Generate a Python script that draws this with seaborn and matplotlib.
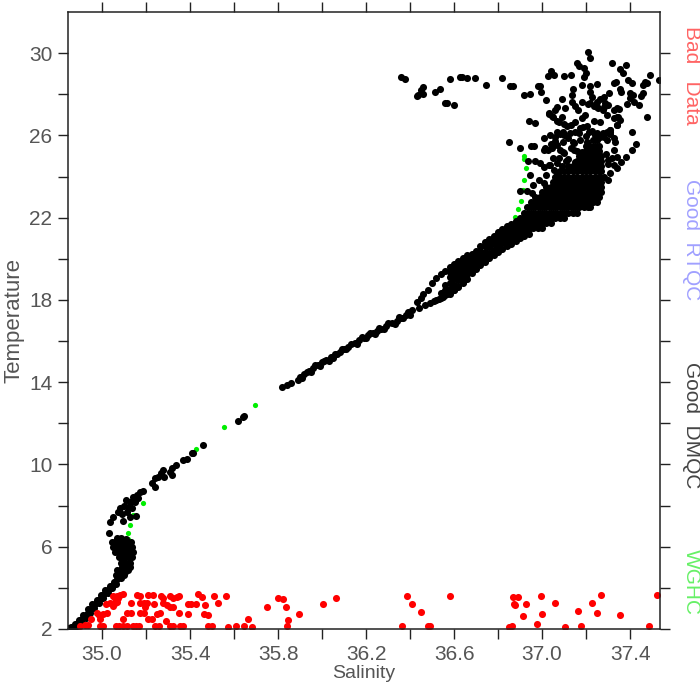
import numpy as np
import pandas as pd
import seaborn as sns
import matplotlib.pyplot as plt

# lower curve and the blob above it
curve_sal = [34.85, 34.86, 34.87, 34.88, 34.89, 34.90, 34.91, 34.92, 34.93, 34.94, 34.95, 34.96, 34.97, 34.98, 34.99, 35.00, 35.01, 35.02, 35.03, 35.04, 35.05, 35.06, 35.07, 35.08, 35.09, 35.10, 35.11,
             34.865, 34.885, 34.905, 34.925, 34.945, 34.965, 34.985, 35.005, 35.025, 35.045, 35.065, 35.085, 35.105,
             34.875, 34.895, 34.915, 34.935, 34.955, 34.975, 34.995, 35.015, 35.035, 35.055, 35.075, 35.095, 35.09, 35.095, 35.11, 35.125]
curve_temp = [2.03, 2.08, 2.12, 2.2, 2.3, 2.38, 2.5, 2.62, 2.74, 2.85, 2.97, 3.1, 3.22, 3.35, 3.47, 3.6, 3.72, 3.84, 3.95, 4.05, 4.15, 4.3, 4.45, 4.6, 4.75, 4.9, 5.0,
              2.02, 2.12, 2.3, 2.55, 2.78, 3.02, 3.28, 3.5, 3.75, 3.97, 4.2, 4.5, 4.75,
              2.25, 2.45, 2.7, 2.95, 3.2, 3.42, 3.65, 3.88, 4.1, 4.3, 4.6, 4.85, 5.0, 5.35, 5.05, 5.0]
blob_sal = [35.065, 35.08, 35.10, 35.07, 35.085, 35.10, 35.12, 35.085, 35.10, 35.12, 35.125, 35.075, 35.09, 35.105, 35.12, 35.135, 35.06, 35.075, 35.09, 35.105, 35.12, 35.14, 35.05, 35.065, 35.08, 35.10, 35.12, 35.135, 35.045, 35.06, 35.08, 35.10, 35.115, 35.13, 35.07, 35.085, 35.11]
blob_temp = [4.63, 4.63, 4.63, 4.87, 4.87, 4.87, 4.87, 5.2, 5.2, 5.2, 5.2, 5.52, 5.52, 5.52, 5.52, 5.52, 5.76, 5.76, 5.76, 5.76, 5.76, 5.76, 6.0, 6.0, 6.0, 6.0, 6.0, 6.0, 6.25, 6.25, 6.25, 6.25, 6.25, 6.25, 6.42, 6.42, 6.4]

# 7 to 13 degrees
lower_sal = [35.032, 35.036, 35.05, 35.074, 35.082, 35.097, 35.112, 35.12, 35.127, 35.127, 35.135, 35.142, 35.15, 35.154, 35.157, 35.165, 35.173, 35.188, 35.10, 35.09, 35.11, 35.226, 35.24, 35.24, 35.256, 35.27, 35.279, 35.28, 35.309, 35.317, 35.32, 35.336, 35.367, 35.385, 35.407, 35.415, 35.457, 35.618, 35.64, 35.647]
lower_temp = [6.65, 7.22, 7.46, 7.7, 7.87, 7.27, 7.7, 7.95, 7.46, 8.19, 7.87, 8.43, 8.19, 7.51, 8.51, 8.35, 8.68, 8.72, 8.0, 7.6, 8.25, 9.08, 9.32, 8.89, 9.41, 9.57, 9.73, 9.37, 9.65, 9.49, 9.81, 9.97, 10.21, 10.25, 10.54, 10.57, 10.97, 12.13, 12.29, 12.35]

# the thin line from 14 degrees up to the fork
line_sal = [35.82, 35.84, 35.86, 35.89, 35.90, 35.92, 35.94, 35.96, 35.98, 36.00, 36.02, 36.04, 36.06, 36.08, 36.10, 36.12, 36.15, 36.17, 36.19, 36.21, 36.23, 36.25, 36.27, 36.29, 36.32, 36.34, 36.36, 36.38, 36.41, 36.43, 36.45, 36.46, 36.48, 36.50, 36.44, 36.47, 36.49, 36.51, 36.53, 36.55, 36.57, 36.60, 36.62, 36.64,
            35.91, 35.93, 35.95, 35.97, 35.99, 36.01, 36.03, 36.05, 36.07, 36.09, 36.11, 36.13, 36.16, 36.18, 36.20, 36.22, 36.24, 36.26, 36.28, 36.30, 36.33, 36.35, 36.37, 36.39, 36.40]
line_temp = [13.76, 13.85, 13.95, 14.1, 14.25, 14.4, 14.55, 14.7, 14.85, 14.98, 15.1, 15.22, 15.35, 15.46, 15.6, 15.72, 15.9, 16.04, 16.15, 16.28, 16.38, 16.5, 16.6, 16.72, 16.87, 17.0, 17.12, 17.25, 17.5, 17.9, 18.1, 18.3, 18.5, 18.8, 17.6, 17.75, 17.85, 17.95, 18.05, 18.15, 18.3, 18.5, 18.65, 18.8,
             14.2, 14.5, 14.5, 14.85, 14.8, 15.05, 15.05, 15.2, 15.35, 15.6, 15.6, 15.85, 15.85, 16.2, 16.15, 16.4, 16.35, 16.65, 16.6, 16.9, 16.85, 17.15, 17.1, 17.4, 17.25]

# band below the core, one list of temperatures for each salinity
band_sal = [36.52, 36.54, 36.56, 36.58, 36.60, 36.62, 36.64, 36.66, 36.68, 36.70, 36.72, 36.74, 36.76, 36.78, 36.80, 36.82, 36.84, 36.86, 36.88, 36.90, 36.92, 36.94]
band_temp = [
    [18.0, 19.05],
    [18.1, 18.35, 19.25],
    [18.25, 18.5, 18.75, 19.4],
    [18.3, 18.55, 18.8, 19.1, 19.35, 19.6],
    [18.5, 18.75, 19.0, 19.25, 19.5, 19.75],
    [18.7, 18.95, 19.2, 19.45, 19.7, 19.9],
    [18.85, 19.1, 19.35, 19.6, 19.85, 20.05],
    [19.0, 19.25, 19.5, 19.75, 20.0, 20.2],
    [19.3, 19.5, 19.75, 20.0, 20.25],
    [19.5, 19.7, 19.95, 20.2, 20.4],
    [19.7, 19.9, 20.15, 20.4, 20.6],
    [19.85, 20.1, 20.35, 20.6, 20.8],
    [20.05, 20.3, 20.55, 20.75, 20.95],
    [20.2, 20.45, 20.7, 20.9, 21.1],
    [20.35, 20.6, 20.85, 21.05, 21.3],
    [20.5, 20.75, 21.0, 21.25, 21.45],
    [20.6, 20.85, 21.1, 21.35, 21.6],
    [20.7, 20.95, 21.2, 21.45, 21.7],
    [20.85, 21.1, 21.35, 21.6, 21.85],
    [21.0, 21.25, 21.5],
    [21.1, 21.35],
    [21.2, 21.45],
]

# solid core of the upper cloud, one list of salinities for each temperature
core_temp = [21.5, 21.75, 22.0, 22.25, 22.5, 22.75, 23.0, 23.25, 23.5, 23.75, 24.0, 24.25, 24.5, 24.75, 25.0, 25.25, 25.5]
core_sal = [
    [36.90, 36.92, 36.94, 36.96, 36.98, 37.00],
    [36.90, 36.92, 36.94, 36.96, 36.98, 37.00, 37.02, 37.04],
    [36.90, 36.92, 36.94, 36.96, 36.98, 37.00, 37.02, 37.04, 37.06, 37.08, 37.10],
    [36.92, 36.94, 36.96, 36.98, 37.00, 37.02, 37.04, 37.06, 37.08, 37.10, 37.12, 37.14, 37.16],
    [36.93, 36.95, 36.97, 36.99, 37.01, 37.03, 37.05, 37.07, 37.09, 37.11, 37.13, 37.15, 37.17, 37.19, 37.21, 37.22],
    [36.95, 36.97, 36.99, 37.01, 37.03, 37.05, 37.07, 37.09, 37.11, 37.13, 37.15, 37.17, 37.19, 37.21, 37.23, 37.25],
    [36.97, 36.99, 37.01, 37.03, 37.05, 37.07, 37.09, 37.11, 37.13, 37.15, 37.17, 37.19, 37.21, 37.23, 37.25, 37.26],
    [37.00, 37.02, 37.04, 37.06, 37.08, 37.10, 37.12, 37.14, 37.16, 37.18, 37.20, 37.22, 37.24, 37.26, 37.27],
    [37.02, 37.04, 37.06, 37.08, 37.10, 37.12, 37.14, 37.16, 37.18, 37.20, 37.22, 37.24, 37.26, 37.27],
    [37.05, 37.07, 37.09, 37.11, 37.13, 37.15, 37.17, 37.19, 37.21, 37.23, 37.25, 37.27],
    [37.06, 37.08, 37.10, 37.12, 37.14, 37.16, 37.18, 37.20, 37.22, 37.24, 37.26, 37.28],
    [37.08, 37.10, 37.12, 37.14, 37.16, 37.18, 37.20, 37.22, 37.24, 37.26, 37.27],
    [37.09, 37.12, 37.14, 37.16, 37.18, 37.20, 37.22, 37.24, 37.26, 37.27],
    [37.11, 37.16, 37.18, 37.20, 37.22, 37.24, 37.26, 37.27],
    [37.17, 37.19, 37.21, 37.23, 37.25, 37.27],
    [37.20, 37.22, 37.24, 37.26],
    [37.22, 37.24, 37.26],
]

# loose points above and around the core
upper_sal = [37.21, 37.22, 37.16, 37.17, 37.19, 37.32, 37.38, 37.355, 37.37, 37.49, 37.53, 37.04, 37.025, 37.055, 37.10, 37.13, 37.20, 37.19, 37.325, 37.334, 37.39, 37.41, 37.47, 37.476, 37.46, 37.18, 37.25, 37.22, 37.14, 37.355, 37.305, 37.36, 37.40, 37.415, 37.46, 37.45, 36.99, 36.995, 36.98, 37.135, 37.22, 37.225, 37.28, 37.265, 37.40, 37.385, 37.44, 37.42, 37.02, 37.09, 37.135, 37.105, 37.18, 37.15, 37.165, 37.07, 37.06, 37.03, 37.05, 37.09, 37.07, 37.10, 37.13, 37.15, 37.196, 37.18, 37.234, 37.264, 37.21, 37.235, 37.256, 37.28, 37.30, 37.325, 37.348, 37.34, 37.355, 37.34, 37.31, 37.295, 37.265, 37.41, 37.425, 37.41, 37.476, 37.38, 37.36, 37.34, 37.30, 36.85, 36.90, 36.94, 36.97, 36.95, 36.965, 37.01, 37.01, 37.025, 37.04, 37.06, 36.935, 36.97, 36.99, 36.945, 36.984, 36.96, 36.90, 36.955, 36.93, 37.007, 37.02, 37.037, 37.06, 37.08, 37.10, 37.12, 37.14, 37.17, 37.20, 37.23, 37.25, 37.28, 37.31, 37.33, 37.08, 37.10, 37.13, 37.16, 37.20, 37.23, 37.29, 37.32, 37.05, 37.07, 37.12, 37.15, 37.18, 37.22, 37.26, 37.30]
upper_temp = [30.07, 29.78, 29.53, 29.39, 29.29, 29.50, 29.42, 29.23, 29.05, 28.95, 28.69, 29.15, 28.9, 28.92, 28.87, 28.92, 29.05, 28.82, 28.53, 28.6, 28.69, 28.53, 28.61, 28.53, 28.45, 28.43, 28.48, 28.4, 28.26, 28.24, 28.05, 28.13, 28.05, 27.96, 28.05, 27.92, 28.4, 28.13, 28.4, 27.97, 28.13, 27.88, 27.88, 27.77, 27.8, 27.51, 27.48, 27.64, 27.72, 27.77, 27.64, 27.35, 27.64, 27.43, 27.23, 27.36, 27.24, 27.04, 26.91, 26.91, 26.72, 26.55, 26.5, 26.67, 26.99, 26.83, 26.72, 26.67, 27.55, 27.43, 27.32, 27.4, 27.48, 27.24, 27.27, 26.91, 26.75, 26.5, 26.26, 26.18, 25.94, 26.15, 25.6, 25.29, 26.88, 24.94, 24.72, 24.4, 23.82, 25.7, 25.37, 26.68, 26.62, 25.5, 25.5, 25.89, 25.3, 25.3, 25.6, 25.75, 24.76, 24.76, 24.64, 24.08, 23.83, 23.59, 23.3, 23.2, 23.3, 23.67, 24.08, 24.56, 25.9, 26.05, 26.0, 25.85, 25.7, 26.1, 25.95, 25.8, 26.1, 25.9, 26.05, 25.7, 25.3, 25.15, 25.4, 25.25, 25.5, 25.35, 25.1, 24.9, 24.9, 24.65, 24.85, 24.7, 24.9, 24.75, 24.95, 24.6]

# network of points inside the cloud
web_sal = [37.037, 37.067, 37.097, 37.128, 37.15, 37.188, 37.211, 37.241, 37.279, 37.31, 37.325, 37.294, 37.249, 37.203, 37.173, 37.143, 37.097, 37.067, 37.044, 37.014, 37.097, 37.143, 37.181, 37.325, 37.34, 37.30, 37.325, 37.31, 37.075, 37.03, 37.052, 37.007, 37.067,
           37.03, 37.044, 37.075, 37.113, 37.173, 37.203, 37.226, 37.294, 37.325, 37.279, 37.249, 37.219, 37.249, 37.287, 37.34, 37.347, 37.34, 37.31]
web_temp = [26.02, 26.18, 26.18, 26.1, 26.18, 26.43, 26.18, 26.02, 26.1, 26.26, 25.86, 25.78, 25.78, 25.7, 25.78, 25.62, 25.7, 25.53, 25.37, 25.37, 25.21, 25.29, 25.21, 25.29, 24.97, 24.8, 24.56, 24.16, 24.89, 24.56, 24.32, 24.48, 24.08,
            27.07, 26.94, 26.67, 26.46, 26.34, 26.46, 26.23, 26.99, 26.83, 27.23, 27.4, 27.56, 27.64, 27.56, 27.32, 26.91, 26.5, 26.18]

# the row near 28-29 degrees running left from the cloud
row_sal = [36.358, 36.376, 36.43, 36.434, 36.46, 36.45, 36.46, 36.514, 36.534, 36.56, 36.57, 36.6, 36.58, 36.625, 36.635, 36.658, 36.696, 36.744, 36.82, 36.855, 36.867, 36.92, 36.943]
row_temp = [28.85, 28.76, 27.93, 27.95, 28.34, 28.21, 28.0, 28.13, 28.26, 27.59, 27.56, 27.5, 28.76, 28.85, 28.82, 28.79, 28.81, 28.45, 28.77, 28.42, 28.42, 27.96, 27.99]

# WGHC
green_sal = [35.12, 35.12, 35.127, 35.142, 35.185, 35.427, 35.553, 35.694, 36.878, 36.891, 36.905, 36.915, 36.916, 36.926, 36.92, 36.916]
green_temp = [6.38, 6.68, 7.04, 7.54, 8.14, 10.75, 11.82, 12.89, 22.05, 22.41, 22.83, 23.35, 23.83, 24.4, 24.84, 25.02]

# bad data
red_sal = [34.90, 34.922, 34.938, 34.991, 35.003, 35.063, 35.078, 35.097, 35.112, 35.139, 35.154, 35.166, 35.241, 35.26, 35.309, 35.324, 35.354, 35.366, 35.483, 35.498, 35.571, 35.607, 35.647, 35.68, 35.842,
           34.95, 34.99, 35.097, 35.207, 35.228, 35.289, 35.663, 35.847,
           34.975, 34.987, 35.003, 35.021, 35.112, 35.13, 35.172, 35.19, 35.251, 35.263, 35.351, 35.389, 35.463, 35.483, 35.897,
           35.018, 35.036, 35.059, 35.066, 35.051, 35.133, 35.172, 35.19, 35.203, 35.195, 35.238, 35.278, 35.294, 35.309, 35.324, 35.392, 35.403, 35.425, 35.468, 35.525, 35.748, 35.834, 36.006,
           35.051, 35.066, 35.081, 35.094, 35.059, 35.074, 35.16, 35.172, 35.21, 35.23, 35.27, 35.278, 35.309, 35.324, 35.339, 35.35, 35.438, 35.453, 35.509, 35.563, 35.801, 35.824, 36.063,
           36.365, 36.386, 36.407, 36.45, 36.48, 36.491, 36.58, 36.851, 36.863, 36.866, 36.889, 36.874, 36.879, 36.927, 36.912, 36.997, 36.975, 37.001, 37.059, 37.104, 37.165, 37.177, 37.227, 37.251, 37.266, 37.353, 37.485, 37.521]
red_temp = [2.15, 2.18, 2.18, 2.15, 2.15, 2.15, 2.15, 2.15, 2.15, 2.15, 2.15, 2.15, 2.15, 2.15, 2.15, 2.15, 2.15, 2.15, 2.15, 2.15, 2.12, 2.15, 2.15, 2.12, 2.15,
            2.49, 2.49, 2.47, 2.49, 2.49, 2.39, 2.47, 2.44,
            2.76, 2.68, 2.73, 2.76, 2.8, 2.76, 2.8, 2.76, 2.73, 2.76, 2.76, 2.71, 2.73, 2.67, 2.73,
            3.22, 3.25, 3.25, 3.33, 3.12, 3.25, 3.25, 3.25, 3.28, 3.09, 3.22, 3.25, 3.18, 3.09, 3.05, 3.22, 3.23, 3.22, 3.18, 3.25, 3.09, 3.09, 3.22,
            3.62, 3.62, 3.65, 3.69, 3.49, 3.52, 3.64, 3.62, 3.65, 3.65, 3.62, 3.52, 3.6, 3.52, 3.57, 3.6, 3.69, 3.57, 3.6, 3.62, 3.49, 3.48, 3.52,
            2.15, 3.6, 3.22, 2.81, 2.16, 2.15, 3.6, 2.12, 2.15, 3.56, 3.57, 3.23, 3.18, 3.22, 2.63, 3.6, 2.23, 2.71, 3.28, 2.12, 2.89, 2.13, 3.27, 2.76, 3.65, 2.7, 2.16, 3.65]

x_ticks = [35.0, 35.2, 35.4, 35.6, 35.8, 36.0, 36.2, 36.4, 36.6, 36.8, 37.0, 37.2, 37.4]
x_labels = ["35.0", "", "35.4", "", "35.8", "", "36.2", "", "36.6", "", "37.0", "", "37.4"]
y_ticks = [2, 4, 6, 8, 10, 12, 14, 16, 18, 20, 22, 24, 26, 28, 30]
y_labels = ["2", "", "6", "", "10", "", "14", "", "18", "", "22", "", "26", "", "30"]

side_labels = ["Bad   Data", "Good  RTQC", "Good  DMQC", "WGHC"]
side_colors = ["#ff6464", "#a0a0ff", "#444444", "#66f066"]
side_y = [75, 240, 425, 582]

sns.set_theme(style="ticks")
plt.rcParams["font.family"] = ["Liberation Sans", "DejaVu Sans"]

core_x = np.concatenate(core_sal)
core_y = np.repeat(core_temp, [len(r) for r in core_sal])
band_x = np.repeat(band_sal, [len(r) for r in band_temp])
band_y = np.concatenate(band_temp)
black_x = np.concatenate([curve_sal, blob_sal, lower_sal, line_sal, band_x, core_x, upper_sal, web_sal, row_sal])
black_y = np.concatenate([curve_temp, blob_temp, lower_temp, line_temp, band_y, core_y, upper_temp, web_temp, row_temp])
black = pd.DataFrame({"Salinity": black_x, "Temperature": black_y})
green = pd.DataFrame({"Salinity": green_sal, "Temperature": green_temp})
red = pd.DataFrame({"Salinity": red_sal, "Temperature": red_temp})

fig = plt.figure(figsize=(7, 7), dpi=100)
ax = fig.add_axes([68 / 700, 71 / 700, 592 / 700, 617 / 700])

sns.scatterplot(data=green, x="Salinity", y="Temperature", color="#00ee00", s=14, linewidth=0, ax=ax)
sns.scatterplot(data=black, x="Salinity", y="Temperature", color="black", s=26, linewidth=0, ax=ax)
sns.scatterplot(data=red, x="Salinity", y="Temperature", color="#ff0000", s=26, linewidth=0, ax=ax)

ax.set_xlim(34.845, 37.536)
ax.set_ylim(2, 32)
ax.set_xticks(x_ticks)
ax.set_xticklabels(x_labels)
ax.set_yticks(y_ticks)
ax.set_yticklabels(y_labels)
ax.tick_params(axis="both", direction="out", length=7.2, width=1, color="#222222",
               labelsize=15, labelcolor="#555555", top=True, right=True, pad=4)
for side in ax.spines.values():
    side.set_visible(True)
    side.set_linewidth(1.1)
    side.set_color("#222222")
ax.set_xlabel("Salinity", fontsize=14, color="#555555", labelpad=1)
ax.set_ylabel("Temperature", fontsize=16, color="#555555")
ax.yaxis.set_label_coords(-0.074, 0.50)

for name, col, ypos in zip(side_labels, side_colors, side_y):
    fig.text(691 / 700, 1 - ypos / 700, name, rotation=-90, color=col, fontsize=15,
             ha="center", va="center")

fig.savefig("out.png", dpi=100)
